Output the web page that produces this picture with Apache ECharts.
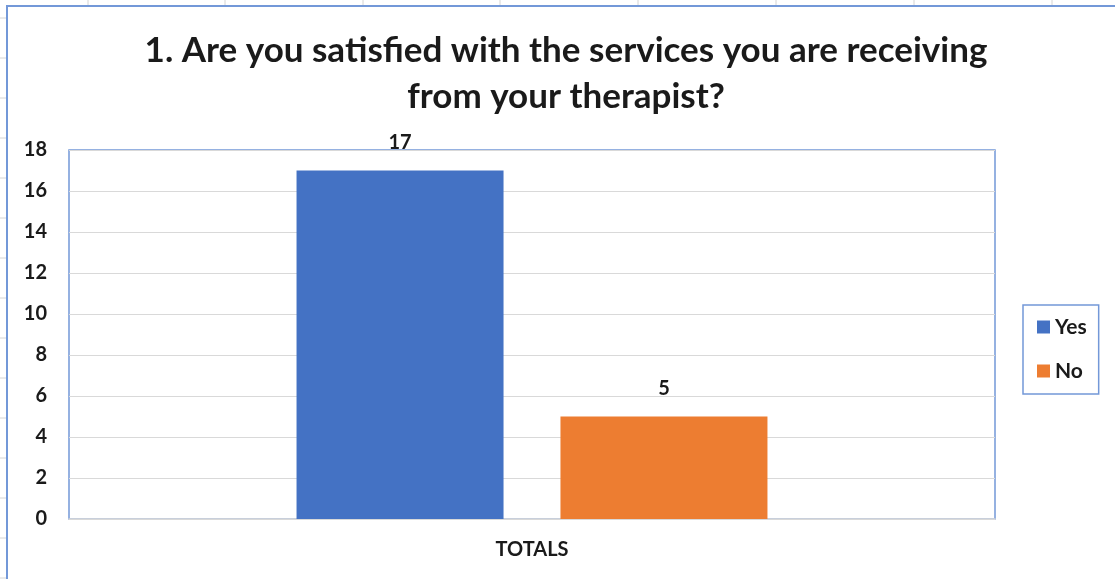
<!DOCTYPE html>
<html>
<head>
<meta charset="utf-8">
<script src="https://cdn.jsdelivr.net/npm/echarts@6/dist/echarts.min.js"></script>
<style>
  html, body { margin: 0; padding: 0; background: #fff; }
  #chart { width: 1115px; height: 579px; }
</style>
</head>
<body>
<div id="chart"></div>
<script>
// Survey question 1: counts of answers
const categories = ['TOTALS'];
const seriesNames = ['Yes', 'No'];
const yesValues = [17];
const noValues = [5];
const yTicks = { min: 0, max: 18, interval: 2 };

const FONT = 'Lato, "Open Sans", sans-serif';
const TEXT = '#1a1a1a';
const BLUE_LINE = '#7398d8';

// Faint worksheet cell lines peeking out around the chart frame
const sheetLines = [];
[88, 225, 363, 500, 638, 776, 914, 1052].forEach(x => {
  sheetLines.push({ type: 'line', shape: { x1: x, y1: 0, x2: x, y2: 6 }, style: { stroke: '#d4d4d4', lineWidth: 1 }, silent: true });
});
for (let y = 18; y < 579; y += 40) {
  sheetLines.push({ type: 'line', shape: { x1: 0, y1: y, x2: 6, y2: y }, style: { stroke: '#d4d4d4', lineWidth: 1 }, silent: true });
}
// Outer chart frame (continues beyond the visible area)
sheetLines.push({ type: 'polyline', shape: { points: [[7, 600], [7, 6], [1130, 6]] }, style: { stroke: BLUE_LINE, lineWidth: 2, fill: null }, silent: true });

const labelStyle = { show: true, position: 'top', distance: 18, fontFamily: FONT, fontWeight: 'bold', fontSize: 20, color: TEXT };

const chart = echarts.init(document.getElementById('chart'));
chart.setOption({
  animation: false,
  backgroundColor: '#fff',
  graphic: sheetLines,
  title: {
    text: '1. Are you satisfied with the services you are receiving\nfrom your therapist?',
    left: 561,
    top: 23,
    textAlign: 'center',
    textStyle: { fontFamily: FONT, fontWeight: 'bold', fontSize: 35, lineHeight: 46, color: TEXT }
  },
  legend: {
    orient: 'vertical',
    left: 1023,
    top: 305,
    padding: [11, 12, 12, 14],
    itemGap: 22,
    itemWidth: 13,
    itemHeight: 13,
    icon: 'rect',
    borderColor: BLUE_LINE,
    borderWidth: 1.5,
    data: seriesNames,
    textStyle: { fontFamily: FONT, fontWeight: 'bold', fontSize: 21, lineHeight: 22, color: TEXT, padding: [0, 0, 0, 0] }
  },
  grid: {
    left: 69, right: 120, top: 150, bottom: 60,
    show: true,
    borderColor: BLUE_LINE,
    borderWidth: 1.5,
    containLabel: false
  },
  xAxis: {
    type: 'category',
    data: categories,
    axisLine: { lineStyle: { color: '#d9d9d9', width: 1.5 } },
    axisTick: { show: false },
    axisLabel: { fontFamily: FONT, fontWeight: 'bold', fontSize: 20, color: TEXT, margin: 21 }
  },
  yAxis: {
    type: 'value',
    min: yTicks.min,
    max: yTicks.max,
    interval: yTicks.interval,
    axisLine: { show: false },
    axisTick: { show: false },
    splitLine: { lineStyle: { color: '#d9d9d9', width: 1 } },
    axisLabel: { fontFamily: FONT, fontWeight: 'bold', fontSize: 20, color: TEXT, margin: 22 }
  },
  series: [
    {
      name: seriesNames[0],
      type: 'bar',
      data: yesValues,
      barWidth: 207,
      barGap: '27.5%',
      itemStyle: { color: '#4472C4' },
      label: labelStyle
    },
    {
      name: seriesNames[1],
      type: 'bar',
      data: noValues,
      barWidth: 207,
      barGap: '27.5%',
      itemStyle: { color: '#ED7D31' },
      label: labelStyle
    }
  ]
});
</script>
</body>
</html>
